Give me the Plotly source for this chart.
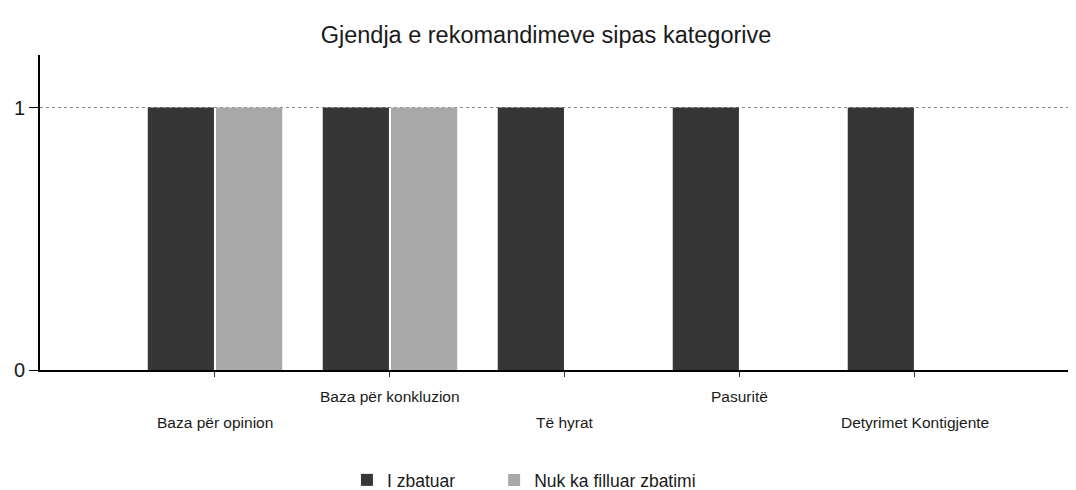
import plotly.graph_objects as go

categories = ["Baza për opinion", "Baza për konkluzion", "Të hyrat", "Pasuritë", "Detyrimet Kontigjente"]
zbatuar = [1, 1, 1, 1, 1]
nuk_filluar = [1, 1, 0, 0, 0]
y_ticks = [0, 1]

fig = go.Figure()
fig.add_trace(go.Bar(x=categories, y=zbatuar, name="I zbatuar", legend="legend",
                     marker=dict(color="#363636", line=dict(width=0))))
fig.add_trace(go.Bar(x=categories, y=nuk_filluar, name="Nuk ka filluar zbatimi", legend="legend2",
                     marker=dict(color="#a8a8a8", line=dict(width=0))))

for i, c in enumerate(categories):
    fig.add_annotation(x=c, y=0, xref="x", yref="y", text=c, showarrow=False,
                       yanchor="top", yshift=-16 if i % 2 else -42,
                       font=dict(size=15.5, color="#1a1a1a"))

legend_common = dict(orientation="h", xanchor="left", yref="container", y=0.0,
                     yanchor="bottom", font=dict(size=17.5, color="#1a1a1a"),
                     bgcolor="rgba(0,0,0,0)")

fig.update_layout(
    width=1076, height=490,
    margin=dict(l=32, r=0, t=47, b=128),
    paper_bgcolor="white", plot_bgcolor="white",
    font=dict(family="Liberation Sans, Arial, sans-serif", color="#1a1a1a"),
    title=dict(text="Gjendja e rekomandimeve sipas kategorive", x=0.5, xanchor="center",
               y=0.945, yanchor="middle", yref="container", font=dict(size=23.5, color="#1a1a1a")),
    barmode="group", bargap=0.22, bargroupgap=0.03,
    showlegend=True,
    legend=dict(x=0.294, **legend_common),
    legend2=dict(x=0.435, **legend_common),
)
fig.update_xaxes(type="category", range=[-1, 4.966], showticklabels=False,
                 showline=True, linecolor="black", linewidth=2,
                 ticks="outside", ticklen=5, tickcolor="#333", showgrid=False)
fig.update_yaxes(range=[0, 1.2], tickvals=y_ticks, ticktext=[str(v) for v in y_ticks],
                 showline=True, linecolor="black", linewidth=2, automargin=False,
                 ticks="outside", ticklen=9, tickcolor="black",
                 showgrid=True, gridcolor="#888", griddash="dot", gridwidth=1,
                 zeroline=False, tickfont=dict(size=20, color="#1a1a1a"))

fig.write_html("out.html")
